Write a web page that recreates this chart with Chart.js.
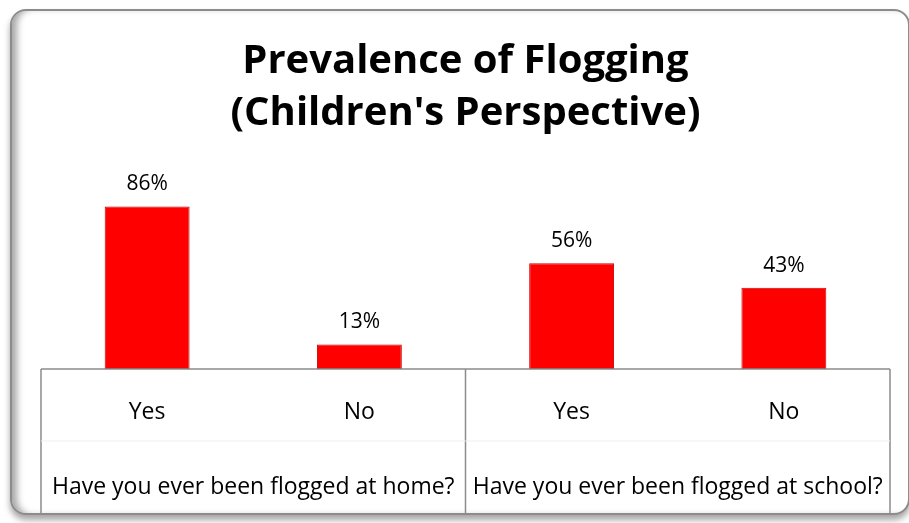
<!DOCTYPE html>
<html>
<head>
<meta charset="utf-8">
<script src="https://cdn.jsdelivr.net/npm/chart.js@4.4.0/dist/chart.umd.min.js"></script>
<style>
  html, body { margin: 0; padding: 0; background: #fff; overflow: hidden; }
  #frame {
    position: absolute; left: 10px; top: 9px; width: 896px; height: 502px;
    border: 2px solid #8c8c8c; border-radius: 16px; background: #fff;
    box-shadow: inset 8px 0 7px -3px rgba(0,0,0,0.35), 0 5px 6px rgba(0,0,0,0.35);
  }
  #chart { position: absolute; left: 0; top: 0; }
</style>
</head>
<body>
<div id="frame"></div>
<canvas id="chart" width="909" height="523"></canvas>
<script>
// ---- data ----
const categories = ['Yes', 'No', 'Yes', 'No'];
const groupLabels = ['Have you ever been flogged at home?', 'Have you ever been flogged at school?'];
const values = [86, 13, 56, 43];
const titleLines = ['Prevalence of Flogging', "(Children's Perspective)"];

const FONT = 'Open Sans, sans-serif';
const LINE = '#8c8c8c';

// table-style axis + value labels
const tablePlugin = {
  id: 'tableAxis',
  afterDatasetsDraw(chart) {
    const { ctx, chartArea, scales: { x } } = chart;
    const meta = chart.getDatasetMeta(0);
    ctx.save();

    // value labels above bars
    ctx.fillStyle = '#000';
    ctx.font = '21px ' + FONT;
    ctx.textAlign = 'center';
    ctx.textBaseline = 'alphabetic';
    meta.data.forEach((bar, i) => {
      ctx.fillText(values[i] + '%', bar.x, bar.y - 16);
    });

    // lines
    const top = chartArea.bottom;
    const bottom = x.bottom;
    ctx.strokeStyle = LINE;
    ctx.lineWidth = 1.5;
    const split = (x.getPixelForValue(1) + x.getPixelForValue(2)) / 2;
    ctx.beginPath();
    ctx.moveTo(chartArea.left, top); ctx.lineTo(chartArea.right, top);
    [chartArea.left, split, chartArea.right].forEach(px => {
      ctx.moveTo(px, top); ctx.lineTo(px, bottom);
    });
    ctx.stroke();

    // faint row separator
    ctx.strokeStyle = '#eeeeee';
    ctx.lineWidth = 1;
    ctx.beginPath();
    ctx.moveTo(chartArea.left, top + 72); ctx.lineTo(chartArea.right, top + 72);
    ctx.stroke();

    // group labels
    ctx.fillStyle = '#000';
    ctx.font = '23px ' + FONT;
    ctx.textBaseline = 'middle';
    const edges = [chartArea.left, split, chartArea.right];
    groupLabels.forEach((g, i) => {
      const cx = (edges[i] + edges[i + 1]) / 2;
      ctx.fillText(g, cx, top + 118);
    });
    ctx.restore();
  }
};

new Chart(document.getElementById('chart'), {
  type: 'bar',
  data: {
    labels: categories,
    datasets: [{
      data: values,
      backgroundColor: '#ff0000',
      borderColor: '#c80000',
      borderWidth: 1,
      borderSkipped: false,
      barPercentage: 0.8,
      categoryPercentage: 0.5
    }]
  },
  options: {
    responsive: false,
    animation: false,
    layout: { padding: { left: 41, right: 19, top: 10, bottom: 10 } },
    plugins: {
      legend: { display: false },
      tooltip: { enabled: false },
      title: {
        display: true,
        text: titleLines,
        color: '#000',
        font: { family: FONT, size: 40, weight: 'bold', lineHeight: 1.3 },
        padding: { top: 26, bottom: 40 }
      }
    },
    scales: {
      y: { display: false, min: 0, max: 100 },
      x: {
        grid: { display: false, drawTicks: false },
        border: { display: false },
        ticks: { color: '#000', font: { family: FONT, size: 23 }, padding: 30 },
        afterFit(scale) { scale.height = 144; }
      }
    }
  },
  plugins: [tablePlugin]
});
</script>
</body>
</html>
